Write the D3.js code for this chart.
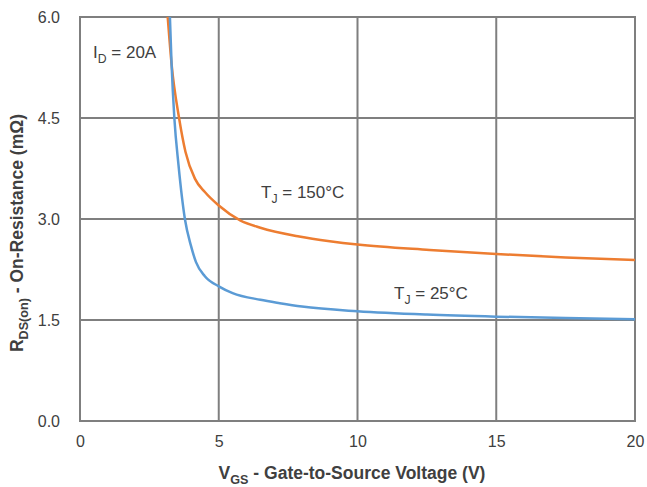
<!DOCTYPE html>
<html><head><meta charset="utf-8">
<script src="https://cdn.jsdelivr.net/npm/d3@7"></script>
<style>body{margin:0;background:#fff;} text{font-family:Arial,"Liberation Sans",sans-serif;}</style>
</head><body>
<svg id="c" width="647" height="487"></svg>
<script>
const xTicks = [0, 5, 10, 15, 20];
const yTicks = [0.0, 1.5, 3.0, 4.5, 6.0];
const vgs25 = [3.24, 3.3, 3.4, 3.55, 3.78, 4.0, 4.18, 4.5, 5.0, 5.5, 6.5, 7.2, 8, 10, 12.5, 15, 17.5, 20];
const r25   = [6.0, 5.3, 4.5, 3.8, 3.0, 2.6, 2.36, 2.15, 2.0, 1.9, 1.8, 1.75, 1.7, 1.63, 1.58, 1.55, 1.53, 1.51];
const vgs150 = [3.16, 3.3, 3.57, 3.8, 4.14, 4.5, 5.0, 5.77, 6.5, 7.9, 9, 10, 12.6, 15, 17.5, 20];
const r150   = [6.0, 5.3, 4.5, 4.0, 3.6, 3.4, 3.2, 2.98, 2.87, 2.74, 2.67, 2.62, 2.54, 2.48, 2.43, 2.39];

const svg = d3.select("#c");
const L = 80, R = 635, T = 17, B = 421;
const x = d3.scaleLinear().domain([0, 20]).range([L, R]);
const y = d3.scaleLinear().domain([0, 6]).range([B, T]);
const grid = "#7f7f7f", txt = "#404040";
const FF = "Arial, 'Liberation Sans', sans-serif";

// grid
svg.append("g").selectAll("line").data(xTicks.slice(1, -1)).join("line")
  .attr("x1", d => x(d)).attr("x2", d => x(d)).attr("y1", T).attr("y2", B)
  .attr("stroke", grid).attr("stroke-width", 2);
svg.append("g").selectAll("line").data(yTicks.slice(1, -1)).join("line")
  .attr("y1", d => y(d)).attr("y2", d => y(d)).attr("x1", L).attr("x2", R)
  .attr("stroke", grid).attr("stroke-width", 2);
svg.append("rect").attr("x", L).attr("y", T).attr("width", R - L).attr("height", B - T)
  .attr("fill", "none").attr("stroke", grid).attr("stroke-width", 2);

// axes labels
const xa = svg.append("g").attr("transform", `translate(0,${B})`)
  .call(d3.axisBottom(x).tickValues(xTicks).tickSize(0).tickPadding(15).tickFormat(d3.format("d")));
xa.select(".domain").remove();
xa.selectAll("text").attr("font-size", 16).attr("fill", txt).style("font-family", FF);
const ya = svg.append("g").attr("transform", `translate(${L},0)`)
  .call(d3.axisLeft(y).tickValues(yTicks).tickSize(0).tickPadding(20).tickFormat(d3.format(".1f")));
ya.select(".domain").remove();
ya.selectAll("text").attr("font-size", 16).attr("fill", txt).style("font-family", FF);

// curves
const line = d3.line().x(d => x(d[0])).y(d => y(d[1])).curve(d3.curveMonotoneX);
svg.append("path").datum(d3.zip(vgs150, r150)).attr("d", line)
  .attr("fill", "none").attr("stroke", "#ED7D31").attr("stroke-width", 2.5);
svg.append("path").datum(d3.zip(vgs25, r25)).attr("d", line)
  .attr("fill", "none").attr("stroke", "#5B9BD5").attr("stroke-width", 2.5);

// annotations
function sub(g, main, s, rest, xx, yy, size, weight, anchor) {
  const t = g.append("text").attr("x", xx).attr("y", yy).attr("font-size", size)
    .attr("fill", txt).attr("font-weight", weight || "normal").attr("text-anchor", anchor || "start");
  t.append("tspan").text(main);
  t.append("tspan").attr("font-size", size * 0.72).attr("dy", size * 0.3).text(s);
  t.append("tspan").attr("dy", -size * 0.3).text(rest);
  return t;
}
sub(svg, "I", "D", " = 20A", 93, 58, 17);
sub(svg, "T", "J", " = 150°C", 261, 198, 17);
sub(svg, "T", "J", " = 25°C", 394, 299, 17);
sub(svg, "V", "GS", " - Gate-to-Source Voltage (V)", 352, 479, 17.5, "bold", "middle");
const yt = svg.append("g").attr("transform", "translate(23,233) rotate(-90)");
sub(yt, "R", "DS(on)", " - On-Resistance (mΩ)", 0, 0, 17.5, "bold", "middle");
</script>
</body></html>
